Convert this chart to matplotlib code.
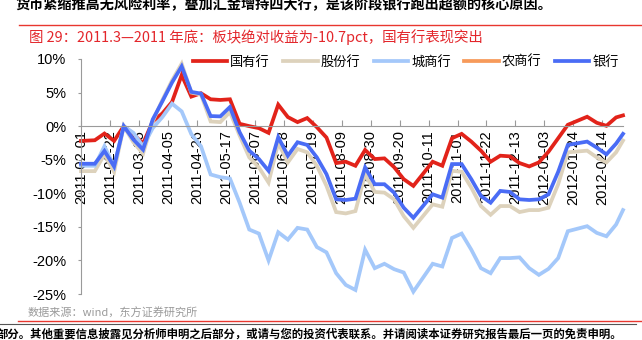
import pandas as pd
import matplotlib
matplotlib.use('Agg')
import matplotlib.pyplot as plt
import matplotlib.ticker as mticker
import matplotlib.dates as mdates

plt.rcParams['font.family'] = ['Liberation Sans', 'Noto Sans CJK SC', 'DejaVu Sans']
cjk = ['Noto Sans CJK SC', 'DejaVu Sans']

# weekly (friday) observations, holiday weeks dropped
fridays = pd.date_range('2011-02-11', '2012-02-24', freq='W-FRI')
fridays = fridays.drop(pd.to_datetime(['2011-10-07', '2012-01-27']))
dates = pd.DatetimeIndex([pd.Timestamp('2011-02-01')]).append(fridays).append(
    pd.DatetimeIndex([pd.Timestamp('2012-02-29')]))

# absolute return, %
soe = [-2.2, -2.1, -1.1, -2.2, 0.0, -1.2, -2.6, 0.7, 1.9, 3.6, 7.6, 4.4, 4.9, 4.0,
       3.9, 4.0, 0.35, 0.0, -0.3, -1.0, 3.2, 1.35, 0.6, 1.2, -0.15, -1.7, -5.5, -5.3,
       -5.9, -3.55, -4.9, -4.8, -6.1, -7.9, -8.9, -5.3, -5.9, -1.8, -1.15, -2.3,
       -3.65, -5.3, -4.4, -4.5, -5.5, -6.0, -5.4, -3.8, -1.8, 0.2, 1.4, 0.5, 0.05,
       1.3, 1.6]
joint = [-6.7, -6.7, -4.2, -6.8, 0.0, -2.4, -4.1, 0.7, 3.9, 6.8, 9.3, 5.0, 4.7, 0.7,
         0.6, 2.1, -1.4, -4.65, -6.15, -8.4, -2.5, -5.4, -3.4, -3.9, -5.9, -8.9, -12.8,
         -13.0, -12.65, -7.15, -9.8, -9.9, -10.9, -13.4, -15.15, -11.65, -12.0, -6.65,
         -6.8, -9.15, -11.9, -13.2, -11.9, -11.9, -12.8, -12.5, -12.5, -12.15, -8.65,
         -3.9, -3.65, -4.65, -5.4, -3.9, -2.15]
city = [-5.9, -5.9, -3.0, -6.0, 0.0, -1.0, -3.0, -0.3, 1.35, 3.35, 2.2, -1.2, -3.0,
        -7.2, -7.6, -7.8, -11.4, -15.4, -16.0, -20.0, -15.8, -16.9, -15.15, -15.4,
        -18.0, -18.8, -21.9, -23.65, -24.4, -18.4, -21.15, -20.5, -21.3, -21.8, -24.65,
        -20.5, -20.9, -16.65, -16.0, -18.4, -21.15, -21.9, -19.65, -19.65, -19.55,
        -21.15, -22.15, -21.25, -19.65, -15.65, -14.9, -15.9, -16.4, -14.65, -12.5]
rural = []
banks = [-5.6, -5.6, -3.7, -6.0, 0.0, -2.0, -3.5, 1.0, 3.7, 6.5, 8.9, 5.1, 4.85, 1.5,
         1.45, 2.85, -0.9, -3.65, -4.9, -6.65, -1.65, -4.4, -2.4, -2.8, -4.65, -7.15,
         -10.9, -11.0, -10.8, -6.15, -8.65, -8.65, -9.9, -12.15, -13.65, -10.15, -10.65,
         -5.65, -5.65, -7.9, -10.4, -11.4, -9.65, -9.8, -10.9, -11.0, -10.9, -10.15,
         -6.8, -2.8, -2.3, -3.2, -4.2, -2.6, -1.15]

names = ['国有行', '股份行', '城商行', '农商行', '银行']
colors = ['#E2231A', '#DDD2BC', '#A4C8FA', '#F79A5A', '#4A6CF5']
yticks = [-25, -20, -15, -10, -5, 0, 5, 10]
xticks = pd.date_range('2011-02-01', periods=19, freq='21D')

W, H = 642, 340
fig = plt.figure(figsize=(W / 100, H / 100), dpi=100)
ax = fig.add_axes([81 / W, 46 / H, 542 / W, 235 / H])

for name, col, vals in zip(names, colors, [soe, joint, city, rural, banks]):
    if len(vals):
        ax.plot(dates, vals, color=col, lw=2.7, label=name, clip_on=False,
                solid_joinstyle='miter')
    else:
        ax.plot([], [], color=col, lw=2.7, label=name)

ax.set_xlim(pd.Timestamp('2011-02-01'), pd.Timestamp('2012-02-29'))
ax.set_ylim(-25, 10)
ax.set_yticks(yticks)
ax.yaxis.set_major_formatter(mticker.FuncFormatter(lambda v, p: '%d%%' % v))
ax.set_xticks(xticks)
ax.xaxis.set_major_formatter(mdates.DateFormatter('%Y-%m-%d'))

for s in ['top', 'right']:
    ax.spines[s].set_visible(False)
ax.spines['bottom'].set_position(('data', 0))
ax.spines['bottom'].set_color('#9a9a9a')
ax.spines['left'].set_color('#9a9a9a')
ax.tick_params(axis='x', direction='in', length=4, color='#9a9a9a', labelsize=10.5,
               labelrotation=90, pad=3)
ax.tick_params(axis='y', direction='out', length=2.5, color='#9a9a9a', labelsize=10.5,
               pad=8)
ax.patch.set_alpha(0)

leg = ax.legend(loc='center right', bbox_to_anchor=(619 / W, 1 - 62 / H),
                bbox_transform=fig.transFigure, ncol=5, frameon=False,
                handlelength=2.6, handletextpad=0.25, columnspacing=1.0,
                borderpad=0, borderaxespad=0, prop={'family': cjk, 'size': 9.5})

# page elements around the chart
fig.text(16 / W, 1 - 5 / H, '货币紧缩推高无风险利率，叠加汇金增持四大行，是该阶段银行跑出超额的核心原因。',
         family=cjk, fontsize=10.2, fontweight='bold', va='center', ha='left')
fig.add_artist(plt.Line2D([19 / W, 1], [1 - 25 / H, 1 - 25 / H], color='#E8372F', lw=1))
fig.text(29 / W, 1 - 37 / H, '图 29：2011.3—2011 年底：板块绝对收益为-10.7pct，国有行表现突出',
         family=cjk, fontsize=10.4, color='#E3262B', va='center', ha='left')
fig.text(28 / W, 1 - 313 / H, '数据来源：wind，东方证券研究所', family=cjk, fontsize=8,
         color='#9a9a9a', va='center', ha='left')
fig.add_artist(plt.Line2D([18 / W, 1], [1 - 321 / H, 1 - 321 / H], color='#E8372F', lw=1))
fig.add_artist(plt.Line2D([0, 636 / W], [1 - 324 / H, 1 - 324 / H], color='#555555', lw=0.8))
fig.text(-3 / W, 1 - 334 / H, '部分。其他重要信息披露见分析师申明之后部分，或请与您的投资代表联系。并请阅读本证券研究报告最后一页的免责申明。',
         family=cjk, fontsize=8.2, fontweight='bold', va='center', ha='left')

fig.savefig('out.png', dpi=100)
